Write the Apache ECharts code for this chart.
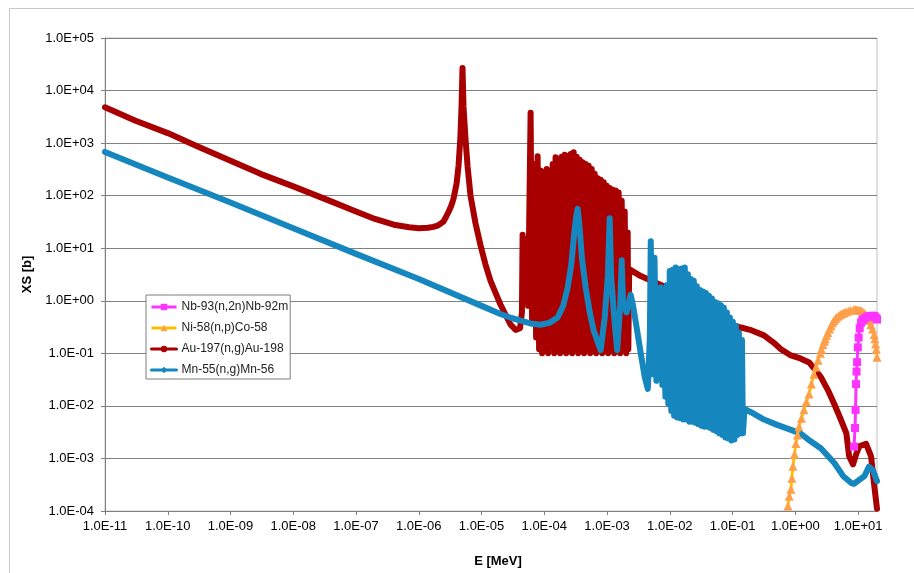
<!DOCTYPE html>
<html>
<head>
<meta charset="utf-8">
<script src="https://cdn.jsdelivr.net/npm/echarts@6/dist/echarts.min.js"></script>
<style>
html,body{margin:0;padding:0;background:#fff;}
#chart{width:914px;height:573px;}
</style>
</head>
<body>
<div id="chart"></div>
<script>
// Tick labels
const xTickLabels = ['1.0E-11','1.0E-10','1.0E-09','1.0E-08','1.0E-07','1.0E-06','1.0E-05','1.0E-04','1.0E-03','1.0E-02','1.0E-01','1.0E+00','1.0E+01'];
const yTickLabels = ['1.0E-04','1.0E-03','1.0E-02','1.0E-01','1.0E+00','1.0E+01','1.0E+02','1.0E+03','1.0E+04','1.0E+05'];

const seriesNames = ['Nb-93(n,2n)Nb-92m','Ni-58(n,p)Co-58','Au-197(n,g)Au-198','Mn-55(n,g)Mn-56'];

// [E (MeV), XS (b)]
const au197 = [
 [1e-11,4800],[3e-11,2700],[1e-10,1550],[3e-10,860],[1e-9,460],[3e-9,260],[1e-8,150],[2e-8,108],[4e-8,78],[1e-7,50],[2e-7,36],[4e-7,28],[7e-7,25],[1e-6,24],[1.4e-6,24.5],[1.7e-6,25.5],[2e-6,27],[2.2e-6,29],[2.46e-6,32],[2.7e-6,39],[3.0e-6,50],[3.3e-6,65],[3.57e-6,87],[4.0e-6,170],[4.3e-6,370],[4.6e-6,1300],[4.8e-6,5000],[4.97e-6,27000],[5.15e-6,5000],[5.55e-6,1200],[6.0e-6,350],[6.67e-6,100],[8e-6,30],[9.6e-6,11.5],[1.15e-5,5],[1.39e-5,2.4],[2.0e-5,0.85],[2.9e-5,0.35],[3.5e-5,0.28],[4.1e-5,0.3],[4.4e-5,0.6],
 [4.51e-5,18],[4.77e-5,1.2],[5.22e-5,15],[5.52e-5,0.8],[6.05e-5,3800],[6.39e-5,0.4],[7.0e-5,400],[7.40e-5,0.2],[7.82e-5,560],[8.26e-5,0.12],[8.73e-5,300],[9.22e-5,0.1],[9.75e-5,280],[1.03e-4,0.12],[1.09e-4,320],[1.15e-4,0.1],[1.22e-4,250],[1.29e-4,0.13],[1.36e-4,400],[1.44e-4,0.1],[1.51e-4,540],[1.60e-4,0.11],[1.69e-4,500],[1.79e-4,0.1],[1.89e-4,550],[2.00e-4,0.12],[2.11e-4,600],[2.23e-4,0.1],[2.36e-4,570],[2.49e-4,0.11],[2.63e-4,620],[2.78e-4,0.1],[2.94e-4,670],[3.11e-4,0.12],[3.28e-4,550],[3.47e-4,0.1],[3.66e-4,480],[3.87e-4,0.11],[4.08e-4,430],[4.31e-4,0.1],[4.56e-4,400],[4.82e-4,0.12],[5.09e-4,370],[5.38e-4,0.1],[5.69e-4,320],[6.01e-4,0.11],[6.35e-4,260],[6.71e-4,0.1],[7.10e-4,215],[7.50e-4,0.12],[7.91e-4,200],[8.36e-4,0.1],[8.83e-4,180],[9.33e-4,0.11],[9.87e-4,155],[1.04e-3,0.1],[1.10e-3,140],[1.16e-3,0.12],[1.23e-3,130],[1.30e-3,0.1],[1.37e-3,125],[1.45e-3,0.11],[1.53e-3,115],[1.62e-3,0.1],[1.71e-3,80],[1.81e-3,0.12],[1.91e-3,50],[2.02e-3,0.1],[2.13e-3,20],[2.18e-3,0.12],[2.25e-3,4.0],
 [3.44e-3,2.95],[5.97e-3,2.2],[1.16e-2,1.55],[2.16e-2,1.05],[3.75e-2,0.65],[0.105,0.34],[0.136,0.31],[0.19,0.28],[0.316,0.22],[0.45,0.16],[0.59,0.12],[0.85,0.091],[1.2,0.08],[1.66,0.067],[2.57,0.035],[3.3,0.02],[4.15,0.011],[5.3,0.0055],[6.5,0.003],[7.2,0.0011],[8.3,0.00077],[9.3,0.0012],[10.4,0.0017],[13.4,0.0019],[16.1,0.0011],[17.9,0.00034],[20,0.00011]
];

const mn55 = [
 [1e-11,680],[1e-10,221],[1e-9,74],[1e-8,24],[1e-7,7.8],[1e-6,2.6],[1e-5,0.8],[2e-5,0.56],[3e-5,0.47],[4.5e-5,0.41],[6e-5,0.37],[8.7e-5,0.35],[1.2e-4,0.38],[1.63e-4,0.48],[2.0e-4,0.8],[2.36e-4,1.8],[2.7e-4,5],[2.94e-4,15.5],[3.2e-4,38],[3.40e-4,56],[3.6e-4,30],[4.0e-4,6],[4.56e-4,1.8],[5.3e-4,0.6],[6.12e-4,0.27],[7.91e-4,0.115],[9.16e-4,0.48],[1.03e-3,3.0],[1.10e-3,37],[1.16e-3,3.0],[1.30e-3,0.48],[1.45e-3,0.115],[1.62e-3,0.8],[1.71e-3,5.9],[1.80e-3,0.9],[2.05e-3,0.6],[2.25e-3,1.0],[2.38e-3,1.3],[2.6e-3,0.8],[2.86e-3,0.4],[3.44e-3,0.1],[3.99e-3,0.035],[4.46e-3,0.021],[4.8e-3,0.2],[4.97e-3,13.5],[5.25e-3,0.04],[5.7e-3,6.6],[6.1e-3,0.03],[7.18e-3,1.8],[7.6e-3,0.025],[8.02e-3,0.55],[8.5e-3,0.015],
 [8.95e-3,2.0],[9.46e-3,0.011],[9.98e-3,3.7],[1.055e-2,0.008],[1.11e-2,3.9],[1.17e-2,0.0065],[1.24e-2,4.3],[1.31e-2,0.006],[1.39e-2,4.0],[1.47e-2,0.0058],[1.55e-2,4.1],[1.64e-2,0.0055],[1.73e-2,4.3],[1.83e-2,0.0055],[1.94e-2,3.2],[2.05e-2,0.005],[2.16e-2,2.6],[2.28e-2,0.005],[2.41e-2,2.4],[2.55e-2,0.0048],[2.69e-2,1.9],[2.84e-2,0.0045],[3.01e-2,1.6],[3.18e-2,0.0042],[3.36e-2,1.5],[3.55e-2,0.004],[3.75e-2,1.4],[3.96e-2,0.004],[4.19e-2,1.25],[4.43e-2,0.0038],[4.68e-2,1.1],[4.95e-2,0.0035],[5.22e-2,0.95],[5.52e-2,0.0033],[5.82e-2,0.9],[6.15e-2,0.003],[6.50e-2,0.82],[6.87e-2,0.0028],[7.26e-2,0.74],[7.67e-2,0.0025],[8.11e-2,0.6],[8.57e-2,0.0024],[9.06e-2,0.48],[9.58e-2,0.0022],[0.101,0.4],[0.107,0.0023],[0.113,0.33],[0.119,0.0028],[0.126,0.25],[0.133,0.003],[0.141,0.18],[0.146,0.003],
 [0.155,0.0087],[0.2,0.0075],[0.316,0.0055],[0.5,0.0044],[0.85,0.0035],[1.2,0.003],[1.6,0.0023],[2.57,0.00155],[4.15,0.00083],[5.8,0.00046],[7.8,0.00034],[8.6,0.00033],[12.6,0.00046],[14.9,0.0007],[17.3,0.00059],[20,0.00037]
];

const ni58 = [
 [0.762,1.24e-4],[0.80,1.9e-4],[0.851,2.6e-4],[0.88,4.2e-4],[0.916,7.1e-4],[0.97,1.2e-3],[1.02,1.92e-3],[1.08,2.8e-3],[1.14,4.0e-3],[1.25,5.8e-3],[1.37,8.4e-3],[1.5,0.012],[1.65,0.0168],[1.8,0.026],[1.98,0.040],[2.14,0.055],[2.30,0.074],[2.5,0.1],[2.6,0.12],[2.76,0.148],[2.9,0.17],[3.0,0.19],[3.15,0.22],[3.31,0.249],[3.5,0.29],[3.7,0.33],[3.9,0.38],[4.13,0.42],[4.35,0.46],[4.6,0.49],[4.9,0.52],[5.2,0.55],[5.6,0.57],[5.97,0.59],[6.4,0.62],[7.0,0.64],[7.6,0.66],[8.61,0.68],[9.2,0.68],[9.8,0.67],[10.4,0.66],[11.1,0.65],[11.8,0.62],[12.7,0.58],[13.5,0.53],[14.4,0.48],[15.2,0.42],[16,0.35],[17,0.29],[18.0,0.228],[18.5,0.19],[19,0.15],[19.5,0.12],[20,0.084]
];

const nb93 = [
 [8.61,0.00168],[8.93,0.0038],[9.1,0.0084],[9.27,0.026],[9.45,0.045],[9.62,0.068],[9.9,0.13],[10.2,0.2],[10.6,0.3],[11.1,0.38],[11.6,0.42],[12.0,0.44],[12.7,0.46],[13.4,0.48],[14.2,0.5],[15.0,0.51],[16.0,0.515],[17.3,0.52],[18.2,0.51],[19.0,0.48],[19.5,0.46],[20.0,0.44]
];

const FONT = '"Liberation Sans", Arial, sans-serif';

function fmt(labels, offset) {
  return function (v) {
    const e = Math.log10(v);
    const r = Math.round(e);
    if (Math.abs(e - r) > 1e-6) return '';
    return labels[r + offset] || '';
  };
}

const chart = echarts.init(document.getElementById('chart'), null, {renderer: 'canvas'});
chart.setOption({
  animation: false,
  backgroundColor: '#fff',
  graphic: [{
    type: 'rect', silent: true, z: -10,
    shape: {x: 9.5, y: 8.5, width: 1000, height: 1000},
    style: {fill: 'none', stroke: '#c8c8c8', lineWidth: 1}
  }],
  grid: {left: 105, top: 38, right: 37, bottom: 58, show: true, borderColor: '#c0c0c0', borderWidth: 1, backgroundColor: 'transparent'},
  legend: {
    orient: 'vertical', left: 146, top: 295,
    data: seriesNames,
    itemWidth: 25, itemHeight: 8, itemGap: 9,
    padding: [6, 2, 3, 4],
    borderColor: '#7f7f7f', borderWidth: 1, backgroundColor: '#fff',
    textStyle: {fontSize: 12, color: '#222', fontFamily: FONT},
    lineStyle: {width: 3},
    selectedMode: false
  },
  xAxis: {
    type: 'log', logBase: 10, min: 1e-11, max: 20, interval: 1,
    name: 'E [MeV]', nameLocation: 'middle', nameGap: 44,
    nameTextStyle: {fontSize: 13, fontWeight: 'bold', color: '#000', fontFamily: FONT, padding: [0, 0, 0, 14]},
    axisLine: {show: true, lineStyle: {color: '#808080', width: 1}},
    axisTick: {show: true, length: 4, inside: false, lineStyle: {color: '#808080'}},
    axisLabel: {fontSize: 13, color: '#000', fontFamily: FONT, margin: 9, formatter: fmt(xTickLabels, 11), showMaxLabel: false},
    splitLine: {show: false},
    minorTick: {show: false}
  },
  yAxis: {
    type: 'log', logBase: 10, min: 1e-4, max: 1e5, interval: 1,
    name: 'XS [b]', nameLocation: 'middle', nameGap: 70, nameRotate: 90,
    nameTextStyle: {fontSize: 13, fontWeight: 'bold', color: '#000', fontFamily: FONT},
    axisLine: {show: true, lineStyle: {color: '#808080', width: 1}},
    axisTick: {show: true, length: 4, inside: false, lineStyle: {color: '#808080'}},
    axisLabel: {fontSize: 13, color: '#000', fontFamily: FONT, margin: 11, formatter: fmt(yTickLabels, 4)},
    splitLine: {show: true, lineStyle: {color: '#808080', width: 1}}
  },
  series: [
    {
      name: seriesNames[2], type: 'line', data: au197,
      symbol: 'circle', symbolSize: 6, showSymbol: false,
      itemStyle: {color: '#A80000'},
      lineStyle: {color: '#A80000', width: 6, join: 'round', cap: 'round'}
    },
    {
      name: seriesNames[3], type: 'line', data: mn55,
      symbol: 'diamond', symbolSize: 6, showSymbol: false,
      itemStyle: {color: '#1586BE'},
      lineStyle: {color: '#1586BE', width: 6, join: 'round', cap: 'round'}
    },
    {
      name: seriesNames[1], type: 'line', data: ni58,
      symbol: 'triangle', symbolSize: 9, showSymbol: true, showAllSymbol: true,
      itemStyle: {color: '#FF9F4A'},
      lineStyle: {color: '#FFC000', width: 3, join: 'round'}
    },
    {
      name: seriesNames[0], type: 'line', data: nb93,
      symbol: 'rect', symbolSize: 8, showSymbol: true, showAllSymbol: true,
      itemStyle: {color: '#FF33FF'},
      lineStyle: {color: '#FF33FF', width: 3, join: 'round'}
    }
  ]
});
</script>
</body>
</html>
